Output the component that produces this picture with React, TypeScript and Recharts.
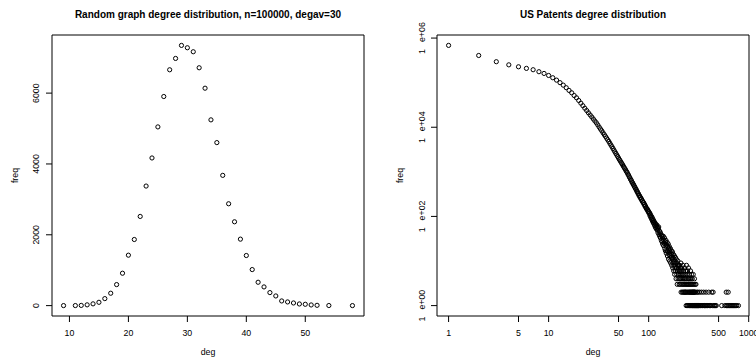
import React from 'react';
import { ScatterChart, Scatter, XAxis, YAxis, ReferenceArea } from 'recharts';

const FONT = '"Liberation Sans", Arial, Helvetica, sans-serif';

// ---------- Left panel: random graph degree distribution ----------
const randDeg = [9, 11, 12, 13, 14, 15, 16, 17, 18, 19, 20, 21, 22, 23, 24, 25, 26, 27, 28, 29, 30, 31, 32, 33, 34, 35, 36, 37, 38, 39, 40, 41, 42, 43, 44, 45, 46, 47, 48, 49, 50, 51, 52, 54, 58];
const randFreq = [1, 2, 6, 22, 50, 94, 198, 350, 594, 915, 1424, 1867, 2518, 3376, 4169, 5046, 5904, 6659, 6979, 7347, 7281, 7168, 6716, 6139, 5245, 4603, 3678, 2876, 2367, 1877, 1415, 1018, 660, 528, 368, 273, 132, 104, 75, 47, 38, 19, 9, 3, 1];
const randXTicks = [10, 20, 30, 40, 50];
const randYTicks = [0, 2000, 4000, 6000];

// ---------- Right panel: US Patents degree distribution ----------
const patentCore: [number, number][] = [
  [1, 685000], [2, 407000], [3, 295000], [4, 251000], [5, 227000], [6, 209000], [7, 195000], [8, 176000], [9, 161000], [10, 145000],
  [11, 129000], [12, 114000], [13, 100000], [14, 88000], [15, 77000], [16, 67000], [17, 59300], [18, 51500], [19, 45700], [20, 39800],
  [21, 34700], [22, 30400], [23, 26700], [24, 23700], [25, 21100], [26, 18900], [27, 17000], [28, 15300], [29, 13800], [30, 12600],
  [31, 11300], [32, 10100], [33, 9120], [34, 8320], [35, 7500], [36, 6840], [37, 6240], [38, 5690], [39, 5220], [40, 4790],
  [41, 4350], [42, 3980], [43, 3650], [44, 3340], [45, 3060], [46, 2810], [47, 2590], [48, 2390], [49, 2210], [50, 2040],
  [51, 1890], [52, 1760], [53, 1640], [54, 1530], [55, 1430], [56, 1330], [57, 1240], [58, 1170], [59, 1090], [60, 1020],
  [61, 962], [62, 887], [63, 841], [64, 772], [65, 733], [66, 674], [67, 648], [68, 590], [69, 571], [70, 524],
  [71, 509], [72, 466], [73, 452], [74, 415], [75, 404], [76, 368], [77, 362], [78, 331], [79, 324], [80, 296],
  [81, 292], [82, 268], [83, 266], [84, 244], [85, 243], [86, 222], [87, 221], [88, 204], [89, 205], [90, 186],
  [91, 187], [92, 169], [93, 171], [94, 157], [95, 149], [96, 151], [97, 138], [98, 140], [99, 127], [100, 129],
];
const patentBand: [number, number][] = [
  [101, 117], [102, 121], [103, 104], [104, 112], [105, 95], [106, 102], [107, 87], [108, 96], [109, 80], [110, 88],
  [111, 73], [112, 81], [113, 68], [114, 75], [115, 62], [116, 71], [117, 57], [118, 66], [119, 53], [120, 60],
  [121, 64], [122, 49], [123, 56], [124, 43], [125, 52], [126, 58], [127, 39], [128, 47], [129, 36], [130, 45],
  [131, 33], [132, 41], [133, 38], [134, 29], [135, 37], [136, 27], [137, 35], [138, 24], [139, 31], [140, 36],
  [141, 22], [142, 29], [143, 25], [144, 33], [145, 19], [146, 27], [147, 17], [148, 24], [149, 29], [150, 15],
  [151, 23], [152, 17], [153, 26], [154, 13], [155, 21], [156, 16], [157, 24], [158, 11], [159, 19], [160, 14],
  [161, 21], [162, 10], [163, 17], [164, 13], [165, 19], [166, 9], [167, 15], [168, 12], [169, 17], [170, 8],
  [171, 14], [172, 11], [173, 16], [174, 7], [175, 12], [176, 9], [177, 14], [178, 6], [179, 11], [180, 8],
  [181, 13], [182, 5], [183, 10], [184, 7], [185, 12], [186, 6], [187, 9], [188, 4], [189, 11], [190, 7],
  [191, 5], [192, 9], [193, 3], [194, 8], [195, 6], [196, 10], [197, 4], [198, 7], [199, 5], [200, 8],
];
const patentTail: [number, number][] = [
  [201, 6], [202, 3], [203, 8], [204, 4], [205, 5], [206, 7], [207, 3], [208, 6], [209, 4], [210, 9],
  [211, 2], [212, 5], [213, 7], [214, 3], [215, 4], [216, 6], [217, 2], [218, 5], [219, 3], [220, 8],
  [221, 4], [222, 2], [223, 6], [224, 3], [225, 5], [226, 2], [227, 4], [228, 7], [229, 3], [230, 2],
  [231, 5], [232, 4], [233, 2], [234, 6], [235, 3], [236, 2], [237, 1], [238, 4], [239, 8], [240, 3],
  [241, 2], [242, 5], [243, 1], [244, 3], [245, 6], [246, 2], [247, 4], [248, 1], [249, 3], [250, 7],
  [251, 2], [252, 4], [253, 1], [254, 3], [255, 5], [256, 2], [257, 1], [258, 4], [259, 2], [260, 3],
  [261, 1], [262, 6], [263, 2], [264, 3], [265, 1], [266, 4], [267, 2], [268, 5], [269, 1], [270, 3],
  [271, 2], [272, 1], [273, 4], [274, 2], [275, 1], [276, 3], [277, 2], [278, 1], [279, 5], [280, 2],
  [281, 1], [282, 3], [283, 2], [285, 1], [286, 2], [287, 4], [288, 1], [289, 2], [291, 3], [293, 1],
  [294, 2], [296, 1], [297, 3], [299, 1], [302, 1], [304, 2], [306, 1], [309, 1], [311, 2], [314, 1],
  [317, 1], [320, 1], [323, 2], [326, 1], [330, 1], [334, 1], [338, 2], [341, 1], [345, 1], [350, 1],
  [355, 2], [359, 1], [364, 1], [370, 1], [375, 2], [381, 1], [386, 1], [392, 1], [398, 2], [404, 1],
  [411, 1], [418, 1], [427, 2], [433, 1], [441, 2], [448, 1], [456, 1], [465, 1], [474, 1], [537, 1],
  [578, 1], [596, 2], [600, 1], [612, 1], [624, 2], [632, 1], [645, 1], [660, 1], [676, 1], [690, 1],
  [705, 1], [722, 1], [741, 1], [760, 1], [790, 1],
];
const patentXTicks = [1, 5, 10, 50, 100, 500, 1000];
const patentYTicks = [1, 100, 10000, 1000000];
const patentYLabels = ['1e+00', '1e+02', '1e+04', '1e+06'];

const randData = randDeg.map((d, i) => ({ deg: d, freq: randFreq[i] }));
const patentData = [...patentCore, ...patentBand, ...patentTail].map(([d, f]) => ({ deg: d, freq: f }));

const RAND_X_DOMAIN: [number, number] = [7.04, 59.96];
const RAND_Y_DOMAIN: [number, number] = [-293, 7641];
const PAT_X_DOMAIN: [number, number] = [0.766, 1007];
const PAT_Y_DOMAIN: [number, number] = [0.5843, 1172000];

const TICK_FS = 8.8;

const Ring = (p: any) => (
  <circle cx={p.cx} cy={p.cy} r={2.1} fill="none" stroke="#000" strokeWidth={1} />
);

const xTick = (p: any) => (
  <text x={p.x} y={335.5} textAnchor="middle" fontSize={TICK_FS} fontFamily={FONT} fill="#000">
    {p.payload.value}
  </text>
);

const yTickLeft = (bx: number) => (p: any) => (
  <text x={bx} y={p.y} transform={`rotate(-90, ${bx}, ${p.y})`} textAnchor="middle" fontSize={TICK_FS} fontFamily={FONT} fill="#000">
    {p.payload.value}
  </text>
);

const yTickLog = (bx: number) => (p: any) => {
  const idx = patentYTicks.indexOf(p.payload.value);
  const lab = idx >= 0 ? patentYLabels[idx] : String(p.payload.value);
  return (
    <text x={bx} y={p.y} transform={`rotate(-90, ${bx}, ${p.y})`} textAnchor="middle" fontSize={TICK_FS} fontFamily={FONT} fill="#000">
      <tspan>{lab.slice(0, 1)}</tspan>
      <tspan dx={7}>{lab.slice(1)}</tspan>
    </text>
  );
};

function LeftChart() {
  return (
    <ScatterChart width={378} height={358} margin={{ top: 35, right: 14, bottom: 0, left: 0 }}>
      <XAxis type="number" dataKey="deg" domain={RAND_X_DOMAIN} allowDataOverflow ticks={randXTicks} interval={0}
        height={42} tickSize={6} axisLine={false} stroke="#000" tickLine={{ stroke: '#000', strokeWidth: 1 }} tick={xTick} />
      <YAxis type="number" dataKey="freq" domain={RAND_Y_DOMAIN} allowDataOverflow ticks={randYTicks} interval={0}
        width={52} tickSize={6} axisLine={false} stroke="#000" tickLine={{ stroke: '#000', strokeWidth: 1 }} tick={yTickLeft(39.3)} />
      <ReferenceArea x1={RAND_X_DOMAIN[0]} x2={RAND_X_DOMAIN[1]} y1={RAND_Y_DOMAIN[0]} y2={RAND_Y_DOMAIN[1]}
        fill="none" fillOpacity={0} stroke="#000" strokeWidth={1} ifOverflow="visible" />
      <Scatter data={randData} isAnimationActive={false} shape={Ring} />
      <text x={208} y={17.5} textAnchor="middle" fontSize={10} fontWeight="bold" fontFamily={FONT} fill="#000">
        Random graph degree distribution, n=100000, degav=30
      </text>
      <text x={208} y={355.3} textAnchor="middle" fontSize={TICK_FS} fontFamily={FONT} fill="#000">deg</text>
      <text x={17.5} y={175.5} transform="rotate(-90, 17.5, 175.5)" textAnchor="middle" fontSize={TICK_FS} fontFamily={FONT} fill="#000">freq</text>
    </ScatterChart>
  );
}

function RightChart() {
  return (
    <ScatterChart width={378} height={358} margin={{ top: 35, right: 7, bottom: 0, left: 0 }}>
      <XAxis type="number" dataKey="deg" scale="log" domain={PAT_X_DOMAIN} allowDataOverflow ticks={patentXTicks} interval={0}
        height={42} tickSize={6} axisLine={false} stroke="#000" tickLine={{ stroke: '#000', strokeWidth: 1 }} tick={xTick} />
      <YAxis type="number" dataKey="freq" scale="log" domain={PAT_Y_DOMAIN} allowDataOverflow ticks={patentYTicks} interval={0}
        width={59} tickSize={6} axisLine={false} stroke="#000" tickLine={{ stroke: '#000', strokeWidth: 1 }} tick={yTickLog(46.7)} />
      <ReferenceArea x1={PAT_X_DOMAIN[0]} x2={PAT_X_DOMAIN[1]} y1={PAT_Y_DOMAIN[0]} y2={PAT_Y_DOMAIN[1]}
        fill="none" fillOpacity={0} stroke="#000" strokeWidth={1} ifOverflow="visible" />
      <Scatter data={patentData} isAnimationActive={false} shape={Ring} />
      <text x={215} y={17.5} textAnchor="middle" fontSize={10} fontWeight="bold" fontFamily={FONT} fill="#000">
        US Patents degree distribution
      </text>
      <text x={215} y={355.3} textAnchor="middle" fontSize={TICK_FS} fontFamily={FONT} fill="#000">deg</text>
      <text x={24.8} y={175.5} transform="rotate(-90, 24.8, 175.5)" textAnchor="middle" fontSize={TICK_FS} fontFamily={FONT} fill="#000">freq</text>
    </ScatterChart>
  );
}

export default function App() {
  return (
    <div style={{ position: 'absolute', left: 0, top: 0, width: 756, height: 358, background: '#fff', display: 'flex', overflow: 'hidden' }}>
      <LeftChart />
      <RightChart />
    </div>
  );
}
